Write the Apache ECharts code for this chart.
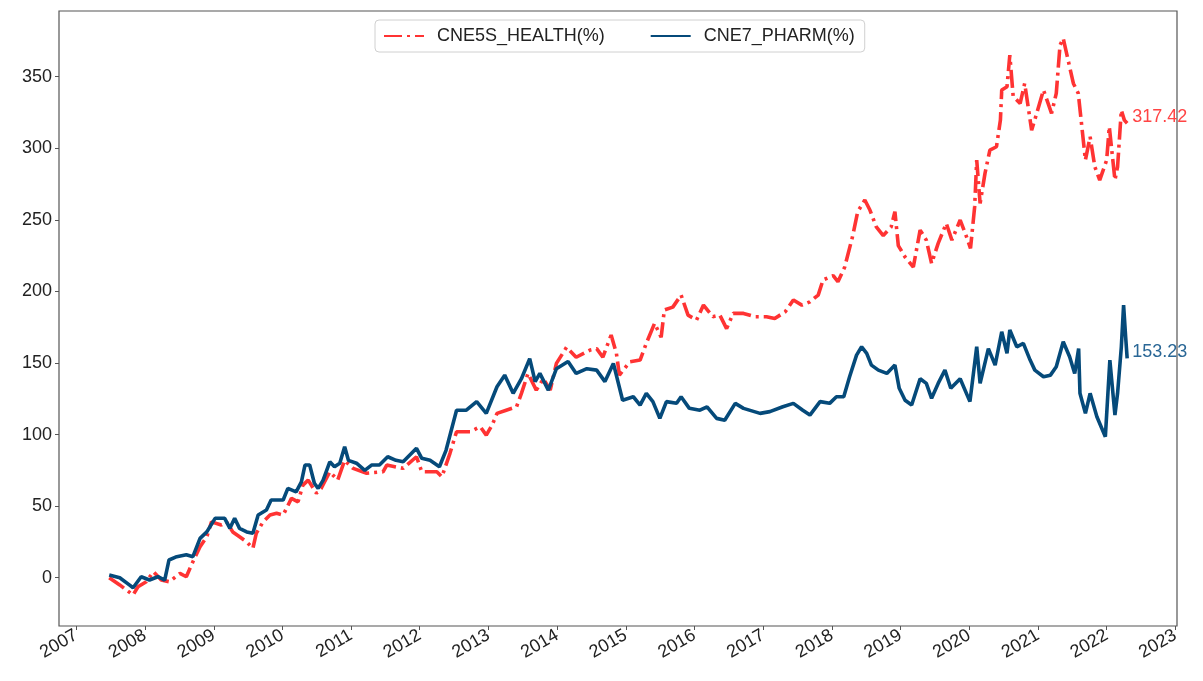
<!DOCTYPE html>
<html>
<head>
<meta charset="utf-8">
<script src="https://cdn.jsdelivr.net/npm/echarts@6/dist/echarts.min.js"></script>
<style>
html,body{margin:0;padding:0;background:#fff;}
#chart{width:1203px;height:681px;}
</style>
</head>
<body>
<div id="chart"></div>
<script>
const seriesNames = ['CNE5S_HEALTH(%)', 'CNE7_PHARM(%)'];

const healthDates = ['2007-06-25','2007-08-20','2007-09-25','2007-10-30','2007-11-25','2008-01-08','2008-02-15','2008-03-28','2008-05-10','2008-07-05','2008-08-08','2008-09-12','2008-10-20','2008-11-25','2008-12-20','2009-02-10','2009-03-10','2009-04-12','2009-05-18','2009-06-25','2009-07-28','2009-08-15','2009-09-20','2009-10-27','2009-12-01','2010-01-05','2010-02-18','2010-03-25','2010-04-20','2010-05-18','2010-07-01','2010-07-26','2010-09-10','2010-10-22','2010-11-28','2011-01-12','2011-03-25','2011-06-20','2011-07-10','2011-10-05','2011-12-15','2012-01-12','2012-04-01','2012-04-28','2012-06-10','2012-07-15','2012-09-25','2012-11-18','2012-12-20','2013-01-20','2013-02-15','2013-04-05','2013-05-30','2013-06-25','2013-07-30','2013-09-12','2013-10-20','2013-11-25','2013-12-28','2014-02-20','2014-04-12','2014-06-25','2014-07-30','2014-09-01','2014-10-15','2014-11-12','2014-11-28','2015-01-22','2015-03-18','2015-04-20','2015-06-03','2015-07-08','2015-07-25','2015-09-08','2015-10-22','2015-11-28','2016-01-12','2016-02-18','2016-04-08','2016-05-15','2016-06-20','2016-07-25','2016-09-18','2016-11-18','2017-01-18','2017-03-03','2017-04-28','2017-06-10','2017-07-25','2017-09-06','2017-10-20','2017-11-15','2018-01-08','2018-02-02','2018-03-10','2018-04-22','2018-05-18','2018-06-25','2018-07-22','2018-08-25','2018-10-01','2018-11-12','2018-12-02','2018-12-20','2019-01-25','2019-03-10','2019-04-15','2019-05-18','2019-06-15','2019-07-20','2019-09-01','2019-10-01','2019-11-14','2019-12-18','2020-01-08','2020-01-30','2020-02-10','2020-02-28','2020-03-25','2020-04-20','2020-05-25','2020-06-15','2020-06-22','2020-07-20','2020-08-04','2020-08-22','2020-09-28','2020-10-22','2020-11-28','2020-12-25','2021-01-30','2021-03-14','2021-04-08','2021-04-28','2021-05-15','2021-06-10','2021-07-08','2021-08-03','2021-08-22','2021-09-10','2021-10-05','2021-10-30','2021-11-25','2022-01-01','2022-01-15','2022-02-14','2022-02-28','2022-03-20','2022-04-05','2022-04-20'];
const healthValues = [0,-5,-8.6,-12,-6.3,-2.8,4.2,-1.6,-2.8,3,0.7,11.2,21.6,28.6,39,36.8,39,32,28.6,25,20.5,31,39,43.8,45,43.8,55.4,53,64.7,68.2,59,62.4,74,68.2,82,76.4,73,74,78.7,76.4,84.5,74,74,70.5,86.9,102,102,105.5,99.6,106.6,114.8,117,119.4,128.8,142.7,131,139,131,149.7,161,154,159,160,154,169.5,156.7,141.5,150.8,152,163.7,177.7,168,187,189,197.4,183.4,180,190.4,182.3,183.4,174,184.6,184.6,182.3,182.3,181,185.8,194,190.4,192.7,197.4,208,211,206.7,217,239,255.6,263.8,256.8,245,239,245,255.6,232,224,217,242.8,235.8,219.5,233.5,247.5,235.8,249.8,238,230,259,291.7,261.4,282.4,298.7,301,319.6,340.6,342.9,365,336,331.3,345.2,312.6,324.3,340.6,324.3,338.3,372,376.7,361.5,345.2,338.3,315,291.7,308,287,277.7,291.7,315,277.7,287,326.6,319.6,317.42];

const pharmDates = ['2007-06-25','2007-08-20','2007-10-10','2007-10-30','2007-12-12','2008-01-25','2008-03-10','2008-04-15','2008-05-08','2008-06-18','2008-08-08','2008-09-12','2008-10-20','2008-11-25','2009-01-08','2009-02-28','2009-03-28','2009-04-22','2009-05-18','2009-06-25','2009-07-28','2009-08-25','2009-10-08','2009-11-02','2010-01-05','2010-01-30','2010-03-15','2010-04-12','2010-05-01','2010-05-26','2010-06-20','2010-07-10','2010-08-05','2010-09-10','2010-10-05','2010-11-02','2010-11-28','2010-12-18','2011-01-30','2011-03-15','2011-04-20','2011-06-01','2011-07-15','2011-08-28','2011-10-05','2011-12-15','2012-01-12','2012-02-25','2012-04-15','2012-05-20','2012-07-15','2012-09-05','2012-10-30','2012-12-20','2013-02-15','2013-03-28','2013-05-12','2013-06-25','2013-08-08','2013-09-06','2013-10-01','2013-11-15','2013-12-28','2014-02-28','2014-04-12','2014-06-08','2014-07-30','2014-09-12','2014-10-27','2014-12-15','2015-02-10','2015-03-18','2015-04-20','2015-05-25','2015-07-01','2015-08-05','2015-09-28','2015-10-22','2015-12-05','2016-01-30','2016-03-08','2016-04-28','2016-06-10','2016-08-05','2016-09-18','2016-12-15','2017-02-05','2017-04-15','2017-06-10','2017-07-30','2017-09-06','2017-10-30','2017-12-20','2018-01-25','2018-03-05','2018-04-05','2018-05-12','2018-06-08','2018-07-05','2018-07-30','2018-09-05','2018-10-20','2018-12-02','2018-12-25','2019-01-25','2019-03-01','2019-04-15','2019-05-18','2019-06-15','2019-07-20','2019-08-25','2019-09-25','2019-11-14','2020-01-05','2020-02-10','2020-02-28','2020-04-12','2020-05-18','2020-06-22','2020-07-20','2020-08-04','2020-09-10','2020-10-15','2020-11-20','2020-12-15','2021-01-30','2021-03-08','2021-04-08','2021-05-15','2021-06-18','2021-07-15','2021-08-05','2021-08-12','2021-09-10','2021-10-05','2021-11-10','2021-12-25','2022-01-18','2022-02-14','2022-02-28','2022-03-20','2022-04-01','2022-04-12','2022-04-20'];
const pharmValues = [1.9,0,-5,-7,0.7,-1.6,0.7,-1.6,12.4,14.7,16,14.7,27.5,32,41.5,41.5,34.5,41.5,34.5,32,31,43.8,47.3,54.3,54.3,62.4,60,67,78.7,78.7,66,62.4,68,81,77.5,80,91.5,82,80,75,78.7,78.7,84.5,82,81,90.4,83.4,82,77.5,89,117,117,123,114.8,133.4,141.5,128.8,139,153,137,142.7,131,146,151,142.7,146,145,137,149.7,124,126.4,120.6,128.8,123,111.3,123,121.8,126.4,118.3,117,119.4,111.3,110,121.8,118.3,114.8,116,119.4,121.8,117,113.6,123,121.8,126.4,126.4,140.4,155.5,161.3,156.7,148.5,145,142.7,148.5,132.3,124,120.6,139,135.7,125.3,135.7,145,132.3,139,123,161.3,135.7,160,148.5,171.8,156.7,173,161.3,163.7,152,145,140.4,141.5,147.3,164.8,154.3,142.7,160,128.8,114.8,128.8,112.4,98.5,152,113.6,128.8,161.3,190.4,168,153.23];

const yTicks = [0, 50, 100, 150, 200, 250, 300, 350];
const xTickYears = [2007,2008,2009,2010,2011,2012,2013,2014,2015,2016,2017,2018,2019,2020,2021,2022,2023];

const RED = '#ff3333';
const BLUE = '#054a7a';
const FONT = 'Liberation Sans';
const YEAR_MS = 365.25 * 24 * 3600 * 1000;

function pairs(d, v) { return d.map((x, i) => [x, v[i]]); }

const chart = echarts.init(document.getElementById('chart'), null, {renderer: 'canvas'});
chart.setOption({
  animation: false,
  backgroundColor: '#fff',
  textStyle: {fontFamily: FONT},
  grid: {left: 59, right: 26, top: 11, bottom: 55, show: true, borderColor: '#555', borderWidth: 1.2, containLabel: false},
  legend: {
    top: 20, left: 375,
    data: seriesNames,
    itemWidth: 40, itemHeight: 14, itemGap: 45,
    padding: [7, 10, 7, 8],
    borderColor: '#d0d0d0', borderWidth: 1, borderRadius: 4,
    itemStyle: {opacity: 0},
    textStyle: {fontSize: 18, color: '#222', fontFamily: FONT, padding: [0, 0, 0, 8]}
  },
  xAxis: {
    type: 'time',
    min: +new Date(2006, 9, 1),
    max: +new Date(2023, 0, 10),
    minInterval: YEAR_MS * 0.98,
    maxInterval: YEAR_MS * 1.02,
    axisLine: {show: false, onZero: false},
    splitLine: {show: false},
    axisTick: {show: true, length: 4, lineStyle: {color: '#555'}},
    axisLabel: {
      rotate: 30, margin: 8, fontSize: 18, color: '#222', fontFamily: FONT,
      showMinLabel: false, showMaxLabel: false,
      formatter: v => {
        const y = new Date(v).getFullYear();
        return xTickYears.indexOf(y) >= 0 ? String(y) : '';
      }
    }
  },
  yAxis: {
    type: 'value',
    min: -33.7, max: 395.8,
    axisLine: {show: false, onZero: false},
    splitLine: {show: false},
    axisTick: {show: true, length: 4, lineStyle: {color: '#555'}, customValues: yTicks},
    axisLabel: {customValues: yTicks, fontSize: 18, color: '#222', margin: 7, fontFamily: FONT}
  },
  series: [
    {
      name: seriesNames[0], type: 'line', showSymbol: false, symbol: 'none',
      data: pairs(healthDates, healthValues),
      lineStyle: {color: RED, width: 3.6, type: [18, 5, 3, 5]},
      itemStyle: {color: RED},
      endLabel: {show: true, formatter: p => p.value[1].toFixed(2), color: '#ff4444', fontSize: 18, fontFamily: FONT, distance: 5, offset: [0, -6]},
      z: 2
    },
    {
      name: seriesNames[1], type: 'line', showSymbol: false, symbol: 'none',
      data: pairs(pharmDates, pharmValues),
      lineStyle: {color: BLUE, width: 3.6},
      itemStyle: {color: BLUE},
      endLabel: {show: true, formatter: p => p.value[1].toFixed(2), color: '#2a6796', fontSize: 18, fontFamily: FONT, distance: 5, offset: [0, -6]},
      z: 3
    }
  ]
});
</script>
</body>
</html>
